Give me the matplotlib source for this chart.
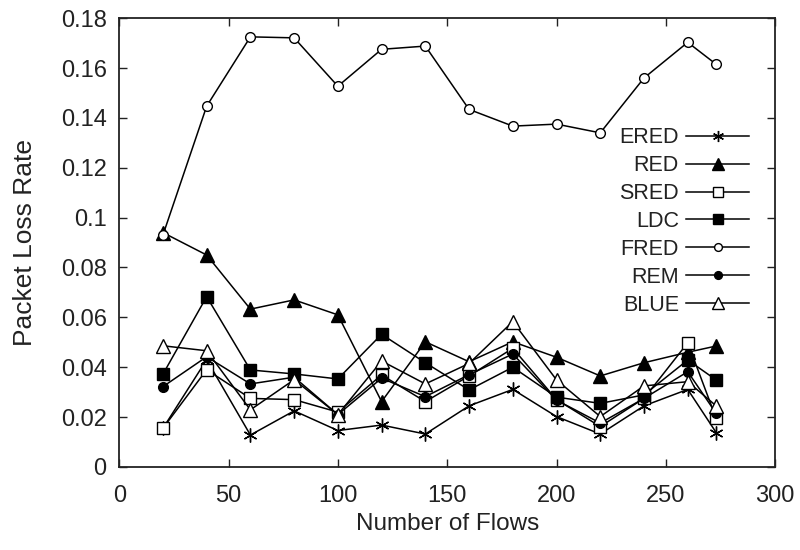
import matplotlib
matplotlib.use("Agg")
import matplotlib.pyplot as plt

plt.rcParams['font.family'] = ['Liberation Sans', 'DejaVu Sans']

# number of flows
flows = [20, 40, 60, 80, 100, 120, 140, 160, 180, 200, 220, 240, 260, 273]

# packet loss rate per scheme
ered = [0.0155, 0.043, 0.0128, 0.0225, 0.0146, 0.0168, 0.0132, 0.0245, 0.0311, 0.0202, 0.0132, 0.0245, 0.0311, 0.0138]
red = [0.094, 0.085, 0.0633, 0.067, 0.061, 0.0262, 0.0502, 0.0422, 0.0502, 0.044, 0.0365, 0.0418, 0.046, 0.0485]
sred = [0.0155, 0.039, 0.0275, 0.027, 0.022, 0.0369, 0.0262, 0.0365, 0.0476, 0.027, 0.0162, 0.0275, 0.0498, 0.0195]
ldc = [0.0372, 0.0683, 0.0389, 0.0373, 0.0353, 0.0532, 0.0418, 0.0309, 0.040, 0.028, 0.0255, 0.0289, 0.0429, 0.0349]
fred = [0.093, 0.1447, 0.1725, 0.1721, 0.1527, 0.1675, 0.1688, 0.1434, 0.1367, 0.1375, 0.134, 0.156, 0.1703, 0.1615]
rem = [0.0322, 0.0442, 0.0333, 0.036, 0.021, 0.0356, 0.0282, 0.037, 0.0453, 0.0268, 0.0176, 0.0275, 0.0382, 0.0215]
blue = [0.0486, 0.0466, 0.0229, 0.035, 0.021, 0.0425, 0.0333, 0.0415, 0.0583, 0.0349, 0.0202, 0.0325, 0.0342, 0.0245]

xticks = [0, 50, 100, 150, 200, 250, 300]
yticks = [0, 0.02, 0.04, 0.06, 0.08, 0.1, 0.12, 0.14, 0.16, 0.18]
ytick_labels = ['0', '0.02', '0.04', '0.06', '0.08', '0.1', '0.12', '0.14', '0.16', '0.18']

fig = plt.figure(figsize=(8, 5.5), dpi=100)
ax = fig.add_axes([0.149, 0.151, 0.82, 0.816])

lw = 1.1
ax.plot(flows, ered, color='black', lw=lw, marker=(6, 2, 0), ms=10, mew=1.0, label='ERED')
ax.plot(flows, red, color='black', lw=lw, marker='^', ms=10.5, mfc='black', label='RED')
ax.plot(flows, sred, color='black', lw=lw, marker='s', ms=8.5, mfc='white', mew=1.0, label='SRED')
ax.plot(flows, ldc, color='black', lw=lw, marker='s', ms=8.5, mfc='black', label='LDC')
ax.plot(flows, fred, color='black', lw=lw, marker='o', ms=7, mfc='white', mew=1.0, label='FRED')
ax.plot(flows, rem, color='black', lw=lw, marker='o', ms=7, mfc='black', label='REM')
ax.plot(flows, blue, color='black', lw=lw, marker='^', ms=10.5, mfc='white', mew=1.0, label='BLUE')

ax.set_xlim(0, 300)
ax.set_ylim(0, 0.18)
ax.set_xticks(xticks)
ax.set_yticks(yticks)
ax.set_yticklabels(ytick_labels)
ax.tick_params(direction='in', length=6, width=1, top=True, right=True,
               labelsize=17, colors='#222222', pad=9)
ax.tick_params(axis='x', pad=13)
for s in ax.spines.values():
    s.set_linewidth(1.3)
    s.set_color('#222222')

ax.set_xlabel('Number of Flows', fontsize=17.5, color='#222222', labelpad=4)
ax.set_ylabel('Packet Loss Rate', fontsize=19, color='#222222', labelpad=17)

leg = ax.legend(loc='upper right', bbox_to_anchor=(0.973, 0.776), frameon=False,
                markerfirst=False, fontsize=15.5, handlelength=2.9, markerscale=0.8,
                handletextpad=0.35, labelspacing=0.32, borderaxespad=0)
for t in leg.get_texts():
    t.set_color('#222222')

fig.savefig('out.png', dpi=100)
